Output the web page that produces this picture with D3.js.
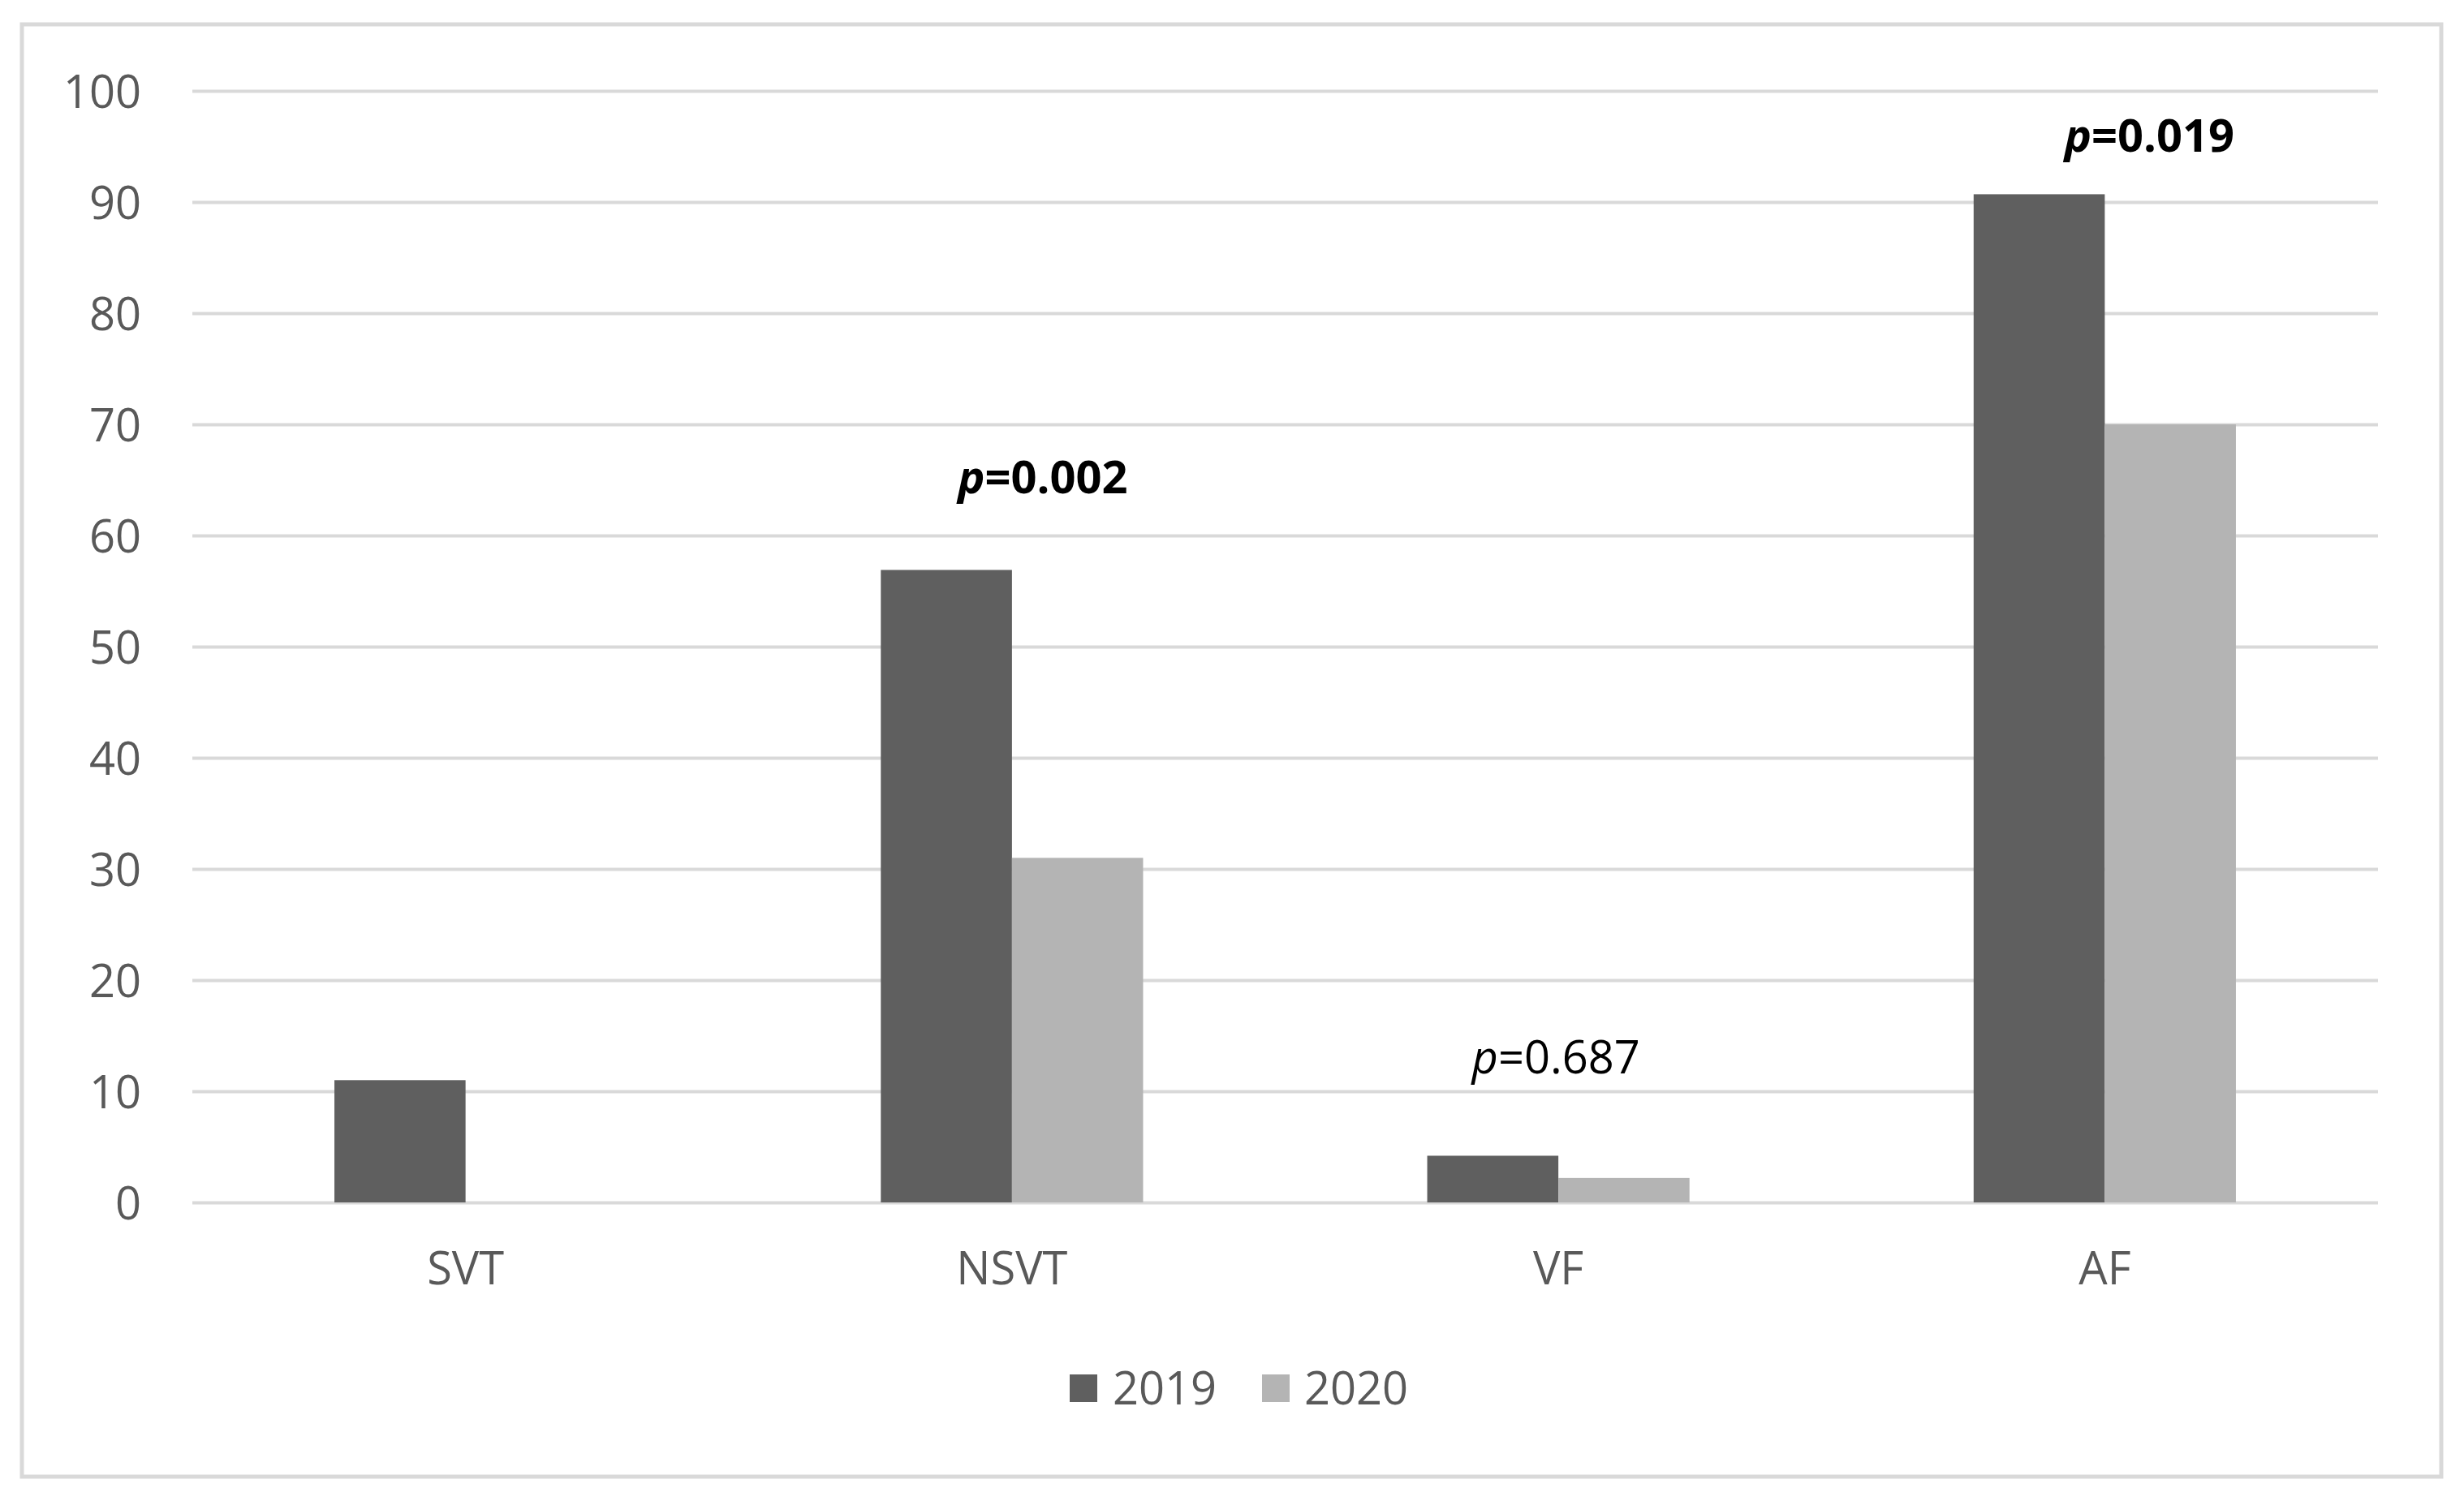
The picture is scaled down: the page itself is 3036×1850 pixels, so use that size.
<!DOCTYPE html>
<html>
<head>
<meta charset="utf-8">
<script src="https://cdn.jsdelivr.net/npm/d3@7"></script>
<style>
  html, body { margin: 0; padding: 0; background: #ffffff; }
  svg { display: block; }
</style>
</head>
<body>
<script>
// ---- data ----
const categories = ["SVT", "NSVT", "VF", "AF"];
const seriesNames = ["2019", "2020"];
const values2019 = [11.0, 56.9, 4.2, 90.7];
const values2020 = [0, 31.0, 2.2, 70.0];
const yTickValues = [0, 10, 20, 30, 40, 50, 60, 70, 80, 90, 100];
const pValueLabels = [null, "=0.002", "=0.687", "=0.019"];
const pValueBold = [false, true, false, true];

// ---- layout (not data) ----
const W = 3036, H = 1850;
const plot = { left: 237, right: 2930, top: 112, bottom: 1482 };
const colors = { "2019": "#5f5f5f", "2020": "#b4b4b4" };
const fontFamily = "'Open Sans', 'Noto Sans', sans-serif";
const labelOffsets = [null, { dx: 38, y: 608 }, { dx: -3, y: 1323 }, { dx: 55, y: 187 }];

const svg = d3.select("body").append("svg")
  .attr("width", W).attr("height", H);

// outer border
svg.append("rect")
  .attr("x", 27).attr("y", 30)
  .attr("width", 3008 - 27).attr("height", 1820 - 30)
  .attr("fill", "#ffffff")
  .attr("stroke", "#d9d9d9").attr("stroke-width", 5);

const x0 = d3.scaleBand().domain(categories).range([plot.left, plot.right]).padding(0);
const groupW = x0.bandwidth() * 0.48;
const x1 = d3.scaleBand().domain(seriesNames).range([0, groupW]).padding(0);
const y = d3.scaleLinear().domain([0, 100]).range([plot.bottom, plot.top]);

// gridlines + y labels via axis
const yAxis = d3.axisLeft(y).tickValues(yTickValues).tickSize(-(plot.right - plot.left)).tickPadding(63);
const gy = svg.append("g").attr("transform", `translate(${plot.left},0)`).call(yAxis);
gy.select(".domain").remove();
gy.selectAll(".tick line").attr("stroke", "#d9d9d9").attr("stroke-width", 4);
gy.selectAll(".tick text")
  .attr("fill", "#595959")
  .attr("font-family", fontFamily)
  .attr("font-size", 56)
  .attr("dy", "0.36em");

// x labels via axis
const xAxis = d3.axisBottom(x0).tickSize(0).tickPadding(0);
const gx = svg.append("g").attr("transform", `translate(0,${plot.bottom})`).call(xAxis);
gx.select(".domain").remove();
gx.selectAll(".tick text")
  .attr("fill", "#595959")
  .attr("font-family", fontFamily)
  .attr("font-size", 56)
  .attr("y", 101)
  .attr("dy", 0);

// bars
const rows = categories.map((c, i) => ({ cat: c, vals: [values2019[i], values2020[i]] }));
const groups = svg.append("g").selectAll("g").data(rows).join("g")
  .attr("transform", d => `translate(${x0(d.cat) + (x0.bandwidth() - groupW) / 2},0)`);
groups.selectAll("rect")
  .data(d => d.vals.map((v, j) => ({ s: seriesNames[j], v })))
  .join("rect")
  .attr("x", d => x1(d.s))
  .attr("width", x1.bandwidth())
  .attr("y", d => y(d.v))
  .attr("height", d => y(0) - y(d.v))
  .attr("fill", d => colors[d.s]);

// p-value labels
categories.forEach((c, i) => {
  if (!pValueLabels[i]) return;
  const t = svg.append("text")
    .attr("x", x0(c) + x0.bandwidth() / 2 + labelOffsets[i].dx)
    .attr("y", labelOffsets[i].y)
    .attr("text-anchor", "middle")
    .attr("font-family", fontFamily)
    .attr("font-size", 56)
    .attr("font-weight", pValueBold[i] ? "bold" : "normal")
    .attr("fill", "#000000");
  t.append("tspan").attr("font-style", "italic").text("p");
  t.append("tspan").text(pValueLabels[i]);
});

// legend
const legendItems = [
  { name: seriesNames[0], sx: 1318, tx: 1371 },
  { name: seriesNames[1], sx: 1555, tx: 1607 }
];
const lg = svg.append("g");
legendItems.forEach(it => {
  lg.append("rect").attr("x", it.sx).attr("y", 1694).attr("width", 34).attr("height", 34)
    .attr("fill", colors[it.name]);
  lg.append("text").attr("x", it.tx).attr("y", 1711).attr("dy", "0.36em")
    .attr("font-family", fontFamily).attr("font-size", 56).attr("fill", "#595959")
    .text(it.name);
});
</script>
</body>
</html>
